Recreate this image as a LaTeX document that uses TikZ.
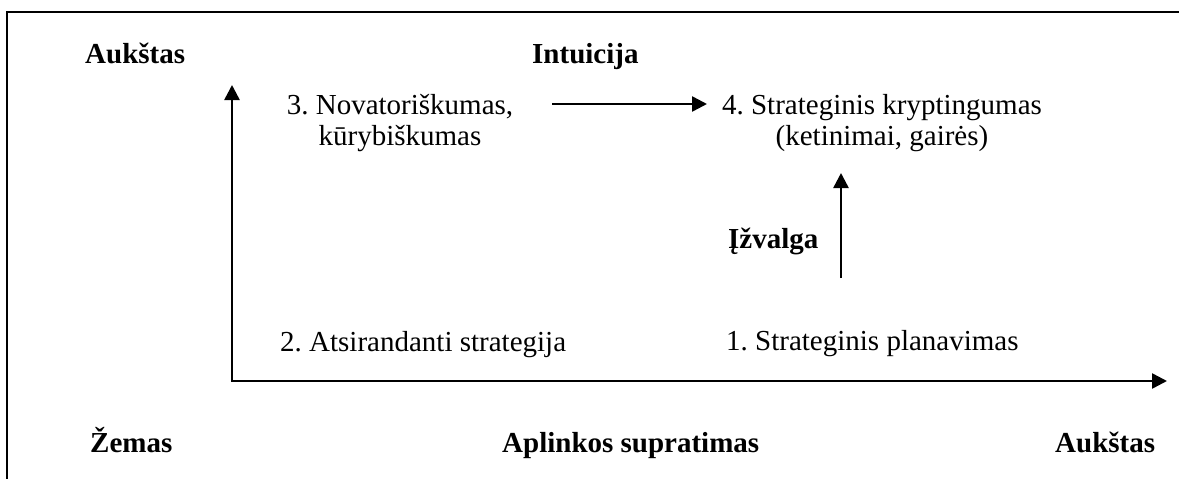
\documentclass[tikz,border=0pt]{standalone}
\usepackage{fontspec}
\setmainfont{Liberation Serif}
\usetikzlibrary{arrows.meta}
\frenchspacing
\begin{document}
\begin{tikzpicture}[x=1pt,y=-1pt,
  txt/.style={font=\fontsize{29}{31}\selectfont, inner sep=0pt},
  lbl/.style={font=\fontsize{29}{31}\selectfont\bfseries, inner sep=0pt},
  axis/.style={line width=2.5pt, line cap=rect, -{Triangle[length=15pt,width=15pt]}},
  flow/.style={line width=2.5pt, -{Triangle[length=15pt,width=15pt]}},
  frameline/.style={line width=2pt}]
\useasboundingbox (0,0) rectangle (1179,479);

% open frame: top and left edges only
\coordinate (ftl) at (7,12);
\coordinate (ftr) at (1182,12);
\coordinate (fbl) at (7,482);
\draw[frameline] (ftr) -- (ftl) -- (fbl);

% axes
\coordinate (O) at (232,381);
\coordinate (xend) at (1167,381);
\coordinate (yend) at (232,85);
\draw[axis] (O) -- (xend);
\draw[axis] (O) -- (yend);

% axis labels
\node[lbl, anchor=base west] (yhigh) at (85,63) {Aukštas};
\node[lbl, anchor=base west] (ytitle) at (532,63) {Intuicija};
\node[lbl, anchor=base west] (xlow) at (90,452) {Žemas};
\node[lbl, anchor=base west] (xtitle) at (502,452) {Aplinkos supratimas};
\node[lbl, anchor=base west] (xhigh) at (1055,452) {Aukštas};

% quadrants
\node[txt, anchor=base west] (q2) at (280,351) {2. Atsirandanti strategija};
\node[txt, anchor=base west] (q1) at (726,350) {1. Strateginis planavimas};
\node[txt, align=center] (q3) at (400,123) {3. Novatoriškumas,\\kūrybiškumas};
\node[txt, align=center] (q4) at (882,123) {4. Strateginis kryptingumas\\(ketinimai, gairės)};
\node[lbl, anchor=base west] (insight) at (728,248) {Įžvalga};

% transitions
\coordinate (a3) at (552,104);
\coordinate (a4) at (707,104);
\draw[flow] (a3) -- (a4);
\coordinate (b1) at (841,278);
\coordinate (b4) at (841,173);
\draw[flow] (b1) -- (b4);
\end{tikzpicture}
\end{document}
